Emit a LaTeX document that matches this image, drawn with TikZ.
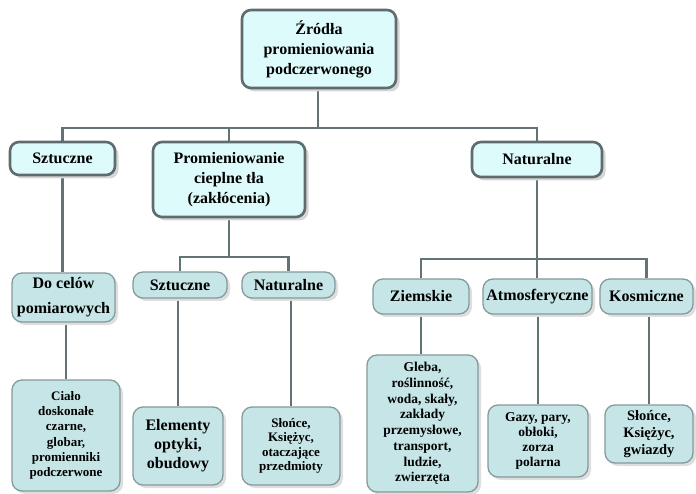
\documentclass[tikz,border=0pt]{standalone}
\usepackage{fontspec}
\setmainfont{Liberation Serif}
\usetikzlibrary{shadows,backgrounds}
\definecolor{bordtop}{HTML}{5E6C6E}
\definecolor{filltop}{HTML}{DEFBFC}
\definecolor{bordlow}{HTML}{86999B}
\definecolor{filllow}{HTML}{C6E5E7}
\definecolor{conn}{HTML}{617375}
\definecolor{shad}{HTML}{D6D6D6}
\tikzset{
  topbox/.style={draw=bordtop, line width=2.6pt, fill=filltop, rounded corners=9pt,
    align=center, inner sep=0pt, font=\bfseries\fontsize{16}{20}\selectfont,
    drop shadow={shadow xshift=3.5pt, shadow yshift=-3.5pt, fill=shad, opacity=1}},
  lowbox/.style={draw=bordlow, line width=1.3pt, fill=filllow, rounded corners=10pt,
    align=center, inner sep=0pt, font=\bfseries\fontsize{16}{20}\selectfont,
    drop shadow={shadow xshift=3pt, shadow yshift=-3pt, fill=shad!80, opacity=1}},
  link/.style={draw=conn, line width=2.6pt}
}
\begin{document}
\begin{tikzpicture}[x=1pt,y=1pt]
\useasboundingbox (0,0) rectangle (696,-494);
% top level
\node[topbox, minimum width=154, minimum height=78] (root) at (319,-49) {Źródła\\promieniowania\\podczerwonego};
\node[topbox, minimum width=105, minimum height=33] (s1) at (62.5,-158.5) {Sztuczne};
\node[topbox, minimum width=152, minimum height=75] (p1) at (229,-179.5) {Promieniowanie\\cieplne tła\\(zakłócenia)};
\node[topbox, minimum width=130, minimum height=35] (n1) at (537,-159.5) {Naturalne};
% level 2
\node[lowbox, minimum width=103, minimum height=49, font=\bfseries\fontsize{16}{25}\selectfont] (d2) at (63.5,-297.5) {Do celów\\pomiarowych};
\node[lowbox, minimum width=94, minimum height=26] (s2) at (180,-285) {Sztuczne};
\node[lowbox, minimum width=93, minimum height=26] (n2) at (288.5,-285) {Naturalne};
\node[lowbox, minimum width=96, minimum height=35] (z2) at (421,-296.5) {Ziemskie};
\node[lowbox, minimum width=109, minimum height=35] (a2) at (537.5,-296.5) {Atmosferyczne};
\node[lowbox, minimum width=93, minimum height=35] (k2) at (646.5,-296.5) {Kosmiczne};
% level 3
\node[lowbox, minimum width=108, minimum height=111, font=\bfseries\fontsize{13}{15.3}\selectfont] (c3) at (66,-435.5) {Ciało\\doskonałe\\czarne,\\globar,\\promienniki\\podczerwone};
\node[lowbox, minimum width=90, minimum height=78, font=\bfseries\fontsize{16}{19}\selectfont] (e3) at (178,-446) {Elementy\\optyki,\\obudowy};
\node[lowbox, minimum width=98, minimum height=78, font=\bfseries\fontsize{13}{14.5}\selectfont] (sl3) at (291,-446) {Słońce,\\Księżyc,\\otaczające\\przedmioty};
\node[lowbox, minimum width=111, minimum height=137, font=\bfseries\fontsize{13.5}{15.7}\selectfont] (g3) at (422.5,-423.5) {Gleba,\\roślinność,\\woda, skały,\\zakłady\\przemysłowe,\\transport,\\ludzie,\\zwierzęta};
\node[lowbox, minimum width=100, minimum height=72, font=\bfseries\fontsize{13.5}{15}\selectfont] (gz3) at (538,-441) {Gazy, pary,\\obłoki,\\zorza\\polarna};
\node[lowbox, minimum width=88, minimum height=58, font=\bfseries\fontsize{14.5}{16.7}\selectfont] (sk3) at (649,-434) {Słońce,\\Księżyc,\\gwiazdy};
% connectors
\begin{scope}[on background layer]
\coordinate (bus1) at (318,-128);
\draw[link] (root.south -| bus1) -- (bus1);
\draw[link] (s1.north) |- (bus1);
\draw[link] (p1.north) -- (p1.north |- bus1);
\draw[link] (n1.north) |- (bus1);
\coordinate (bus2) at (229,-257);
\draw[link] (p1.south) -- (bus2);
\draw[link] (s2.north) |- (bus2) -| (n2.north);
\coordinate (bus3) at (537,-259);
\draw[link] (n1.south) -- (bus3);
\draw[link] (z2.north) |- (bus3) -| (k2.north);
\draw[link] (a2.north -| bus3) -- (bus3);
\draw[link] (s1.south) -- (s1.south |- d2.north);
\draw[link] (d2.south -| c3.north) -- (c3.north);
\draw[link] (s2.south -| e3.north) -- (e3.north);
\draw[link] (n2.south -| sl3.north) -- (sl3.north);
\draw[link] (z2.south) -- (z2.south |- g3.north);
\draw[link] (a2.south -| gz3.north) -- (gz3.north);
\draw[link] (k2.south -| sk3.north) -- (sk3.north);
\end{scope}
\end{tikzpicture}
\end{document}
